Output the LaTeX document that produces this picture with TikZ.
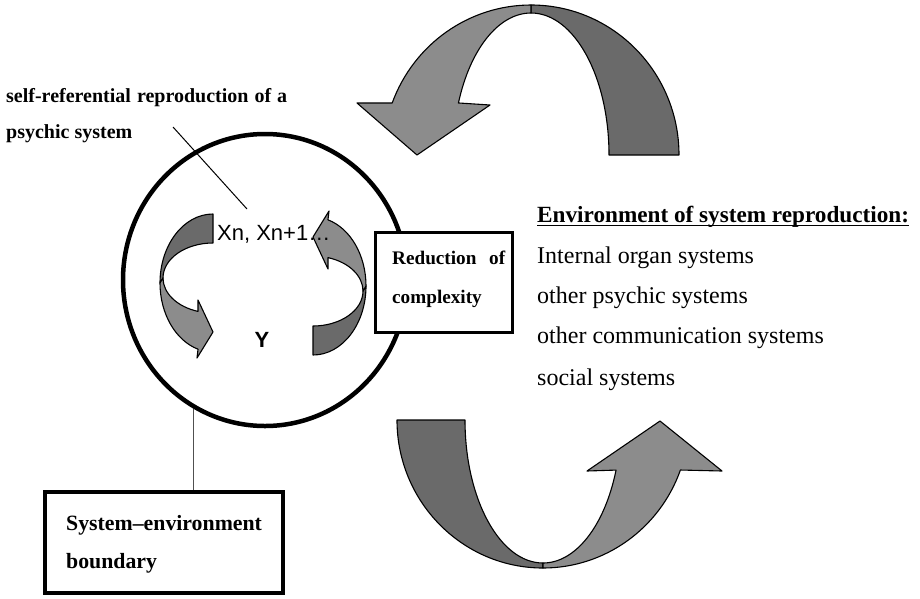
\documentclass[tikz,border=0pt]{standalone}
\usepackage{fontspec}
\setmainfont{Liberation Serif}
\newfontfamily\labelsans{Liberation Sans}
\usetikzlibrary{shapes.geometric,calc}

\definecolor{bandDark}{RGB}{106,106,106}
\definecolor{bandLight}{RGB}{140,140,140}
\definecolor{leadGrey}{RGB}{80,80,80}

% one small twisted loop arrow (drawn twice, the second turned half round)
\newcommand\smallLoopArrow{%
  \path[dark] ([shift={(213,283)}]-90:53 and 69)
      arc[start angle=-90,end angle=-180,x radius=53,y radius=69]
      -- ([shift={(213,278)}]-180:50 and 35)
      arc[start angle=-180,end angle=-90,x radius=50,y radius=35] -- cycle;
  \path[light] ([shift={(213,283)}]180:53 and 69)
      arc[start angle=180,end angle=106.4,x radius=53,y radius=69]
      -- (197,358) -- (213,332) -- (198,300)
      -- ([shift={(213,278)}]107.5:50 and 35)
      arc[start angle=107.5,end angle=180,x radius=50,y radius=35] -- cycle;
}

\begin{document}
\begin{tikzpicture}[x=1pt,y=-1pt,
  band/.style={draw=black,line width=1.1pt,line join=round},
  dark/.style={band,fill=bandDark},
  light/.style={band,fill=bandLight},
  frame/.style={draw=black,fill=white,inner sep=0pt},
  lead/.style={draw=black,line width=1pt},
  smallbold/.style={font=\bfseries\fontsize{20}{24}\selectfont,anchor=base west,inner sep=0pt},
  boxbold/.style={font=\bfseries\fontsize{19.2}{23}\selectfont,anchor=base west,inner sep=0pt},
  boundbold/.style={font=\bfseries\fontsize{21.8}{26}\selectfont,anchor=base west,inner sep=0pt},
  envtext/.style={font=\fontsize{24}{28}\selectfont,anchor=base west,inner sep=0pt},
  sanslabel/.style={font=\labelsans\fontsize{22}{26}\selectfont,inner sep=0pt},
]
\useasboundingbox (0,0) rectangle (920,598);

% the psychic system
\node[ellipse,draw=black,line width=4.5pt,minimum width=284pt,minimum height=292pt,inner sep=0pt] (sys) at (265,280) {};

% upper big arrow: dark back half on the right, light front half with head
\path[dark] ([shift={(531,155)}]0:148 and 150)
    arc[start angle=0,end angle=-90,x radius=148,y radius=150]
    -- ([shift={(531,155)}]-90:78 and 142)
    arc[start angle=-90,end angle=0,x radius=78,y radius=142] -- cycle;
\path[light] ([shift={(531,155)}]-90:148 and 150)
    arc[start angle=-90,end angle=-159.7,x radius=148,y radius=150]
    -- (357,103) -- (417,155) -- (490,105)
    -- ([shift={(531,155)}]-158.5:78 and 142)
    arc[start angle=-158.5,end angle=-90,x radius=78,y radius=142] -- cycle;

% lower big arrow: dark back half on the left, light front half with head
\path[dark] ([shift={(543,420)}]180:146 and 148)
    arc[start angle=180,end angle=90,x radius=146,y radius=148]
    -- ([shift={(543,420)}]90:78 and 143)
    arc[start angle=90,end angle=180,x radius=78,y radius=143] -- cycle;
\path[light] ([shift={(543,420)}]90:146 and 148)
    arc[start angle=90,end angle=19.75,x radius=146,y radius=148]
    -- (722,471) -- (660,421) -- (587,471)
    -- ([shift={(543,420)}]20.5:78 and 143)
    arc[start angle=20.5,end angle=90,x radius=78,y radius=143] -- cycle;

% inner loop of reproduction
\smallLoopArrow
\begin{scope}[rotate around={180:(263,284.5)}]
  \smallLoopArrow
\end{scope}

\node[sanslabel,anchor=base west] (xn) at (217,240) {Xn, Xn+1…};
\node[sanslabel,font=\labelsans\bfseries\fontsize{22}{26}\selectfont,anchor=base] (ylabel) at (262,347) {Y};

% label of the loop
\node[smallbold] (selfref) at (6,102) {\makebox[281pt][s]{self-referential reproduction of a}};
\node[smallbold] (psychic) at (6,138) {psychic system};
\coordinate (leadA) at (173,127);
\coordinate (leadB) at (247,209);
\draw[lead] (leadA) -- (leadB);

% reduction of complexity
\node[frame,line width=3pt,minimum width=137pt,minimum height=100pt] (reduce) at (444,282.5) {};
\node[boxbold] (red1) at (392,264) {\makebox[113pt][s]{Reduction of}};
\node[boxbold] (red2) at (392,303) {complexity};

% environment
\node[font=\bfseries\fontsize{23.2}{28}\selectfont,anchor=base west,inner sep=0pt] (env) at (537,222) {Environment of system reproduction:};
\draw[line width=1.2pt] ([yshift=-3.5pt]env.base west) -- ([yshift=-3.5pt]env.base east);
\node[envtext] (env1) at (537,263) {Internal organ systems};
\node[envtext] (env2) at (537,303) {other psychic systems};
\node[envtext] (env3) at (537,343) {other communication systems};
\node[envtext] (env4) at (537,385) {social systems};

% system-environment boundary
\node[frame,line width=4pt,minimum width=238pt,minimum height=101pt] (bound) at (164,542.5) {};
\node[boundbold] (bound1) at (66,530) {System–environment};
\node[boundbold] (bound2) at (66,568) {boundary};
\draw[draw=leadGrey,line width=1.3pt] (sys.241.1) -- (sys.241.1 |- bound.north);
\end{tikzpicture}
\end{document}
